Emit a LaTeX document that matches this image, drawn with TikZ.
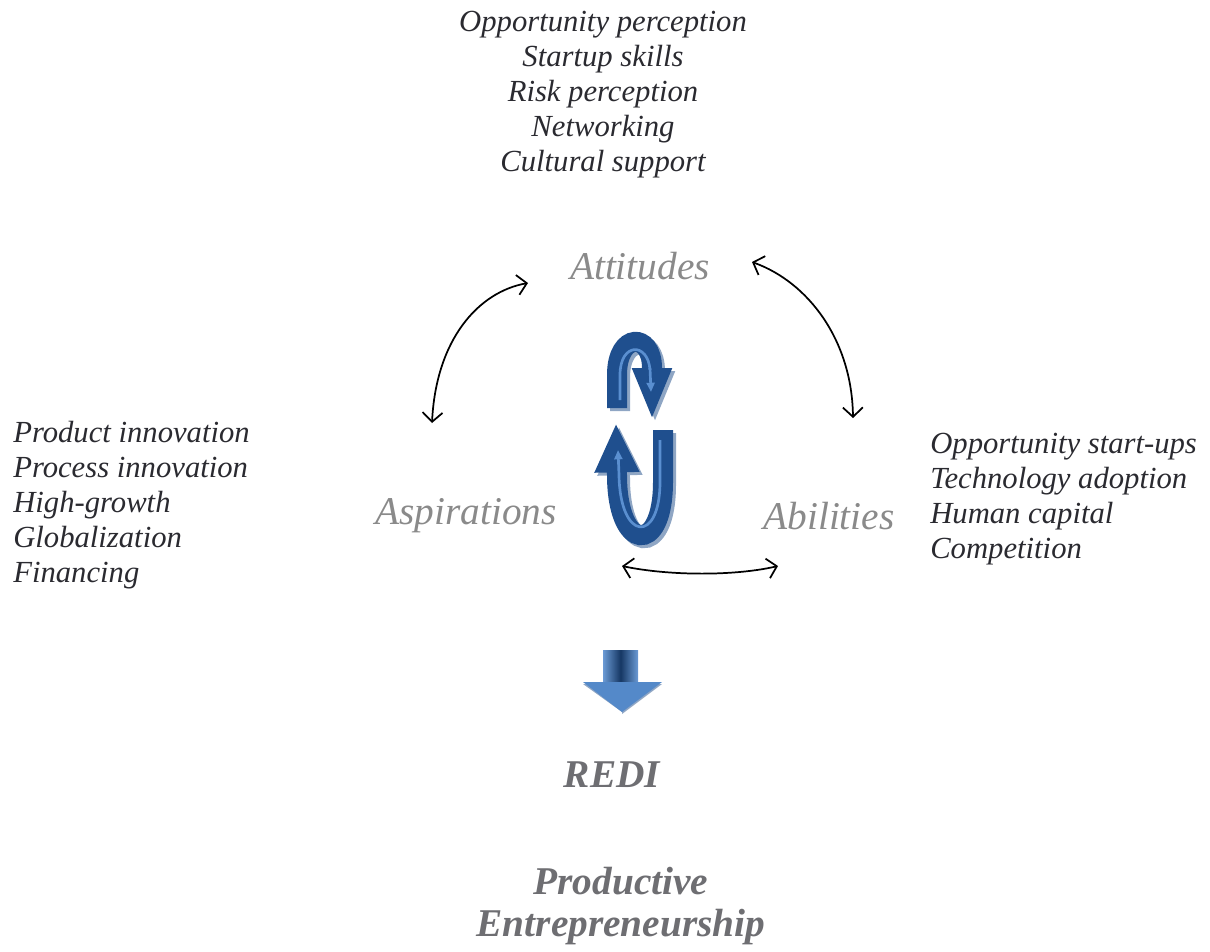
\documentclass[tikz,border=0pt]{standalone}
\usepackage{fontspec}
\setmainfont{Liberation Serif}
\usetikzlibrary{arrows.meta}
\definecolor{txt}{HTML}{2A2A30}
\definecolor{lbl}{HTML}{8A8A8A}
\definecolor{redi}{HTML}{6E6E72}
\definecolor{navy}{HTML}{1F4F8E}
\definecolor{lite}{HTML}{5A8FD0}
\definecolor{shd}{HTML}{8FA6C4}
\tikzset{
  listtxt/.style={font=\fontsize{23}{26.3}\selectfont\itshape, text=txt, inner sep=0pt},
  dimlbl/.style={font=\fontsize{29.5}{34}\selectfont\itshape, text=lbl, inner sep=0pt},
  rediT/.style={font=\fontsize{29.5}{31.5}\selectfont\bfseries\itshape, text=redi, inner sep=0pt},
  link/.style={line width=1.3pt, black, {Straight Barb[length=7pt,width=15pt]}-{Straight Barb[length=7pt,width=15pt]}},
  cyctop/.style={line width=15pt, navy, -{Triangle[width=27pt,length=39pt]}},
  cycbot/.style={line width=15pt, navy, -{Triangle[width=31pt,length=37pt]}},
  cycin/.style={line width=2pt, lite, -{Triangle[width=6pt,length=7pt]}}
}
\begin{document}
\begin{tikzpicture}[x=0.75pt,y=-0.75pt]
\useasboundingbox (0,0) rectangle (1210,951);
% lists
\node[listtxt, align=center, anchor=north] (top) at (603,11) {Opportunity perception\\Startup skills\\Risk perception\\Networking\\Cultural support};
\node[listtxt, align=left, anchor=north west] (left) at (13,421) {Product innovation\\Process innovation\\High-growth\\Globalization\\Financing};
\node[listtxt, align=left, anchor=north west] (right) at (930,433) {Opportunity start-ups\\Technology adoption\\Human capital\\Competition};
% dimension labels
\node[dimlbl] (att) at (640,266) {Attitudes};
\node[dimlbl] (asp) at (466,516) {Aspirations};
\node[dimlbl] (abi) at (829,516) {Abilities};
% REDI
\node[rediT] (redi) at (612,775) {REDI};
\node[rediT, align=center] (pe) at (621,906) {Productive\\Entrepreneurship};
% connector ends
\coordinate (a1) at (528,283);
\coordinate (a2) at (432,423);
\coordinate (b1) at (752,262);
\coordinate (b2) at (853,418);
\coordinate (c1) at (622,566);
\coordinate (c2) at (778,566);
\draw[link] (a1) .. controls (478,292) and (436,340) .. (a2);
\draw[link] (b1) .. controls (808,282) and (852,340) .. (b2);
\draw[link] (c1) .. controls (670,576) and (735,576) .. (c2);
% cycle arrows: shadows
\begin{scope}[shift={(3,3)}]
\draw[cyctop, shd] (617,408) -- (617,375) .. controls (617,332) and (652,332) .. (652,368) -- (652,420);
\draw[cycbot, shd] (663,430) -- (663,482) .. controls (663,556) and (617,552) .. (617,475) -- (616,423);
\end{scope}
\coordinate (u1) at (617,408);
\coordinate (u2) at (652,420);
\coordinate (v1) at (663,430);
\coordinate (v2) at (616,423);
\draw[cyctop] (u1) -- (617,375) .. controls (617,332) and (652,332) .. (652,368) -- (u2);
\draw[cycbot] (v1) -- (663,482) .. controls (663,556) and (617,552) .. (617,475) -- (v2);
\draw[cycin, -] (620,400) -- (620,375) .. controls (620,342) and (648,342) .. (650,370);
\draw[cycin] (650,368) -- (651,392);
\draw[cycin] (660,440) -- (660,482) .. controls (660,544) and (620,542) .. (619,475) -- (618,450);
% down arrow
\shade[left color=lite!90, right color=lite!90, middle color=navy!70!black]
  (603,650) rectangle (638,684);
\fill[shd] (583,684) -- (662,684) -- (622,714) -- (622,712) -- cycle;
\fill[lite!90!navy] (583,682) -- (662,682) -- (622,712) -- cycle;
\end{tikzpicture}
\end{document}
